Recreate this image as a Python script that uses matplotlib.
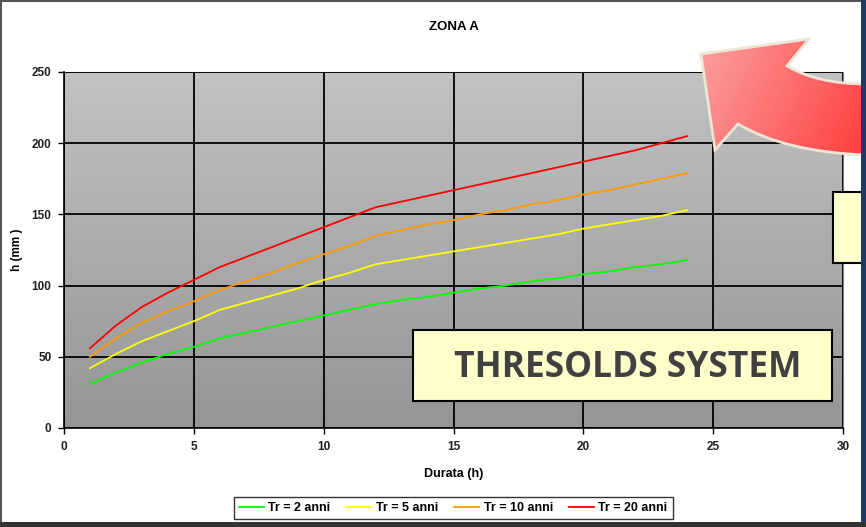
import numpy as np
import matplotlib
matplotlib.use("Agg")
import matplotlib.pyplot as plt
from matplotlib.path import Path
from matplotlib.patches import PathPatch, Rectangle

plt.rcParams['font.family'] = ['Liberation Sans', 'DejaVu Sans']

# ---- data ----
durata = [1, 2, 3, 4, 5, 6, 7, 8, 9, 10, 11, 12, 13, 14, 15, 16, 17, 18, 19, 20, 21, 22, 23, 24]
tr2 = [31, 39, 46, 52, 57, 63, 67, 71, 75, 79, 83, 87, 90, 92, 95, 98, 100, 103, 105, 108, 110, 113, 115, 118]
tr5 = [42, 52, 61, 68, 75, 83, 88, 93, 98, 104, 109, 115, 118, 121, 124, 127, 130, 133, 136, 140, 143, 146, 149, 153]
tr10 = [50, 63, 74, 82, 89, 97, 103, 109, 116, 122, 128, 135, 139, 143, 146, 150, 153, 157, 160, 164, 167, 171, 175, 179]
tr20 = [56, 72, 85, 95, 104, 113, 120, 127, 134, 141, 148, 155, 159, 163, 167, 171, 175, 179, 183, 187, 191, 195, 200, 205]
series_labels = ['Tr = 2 anni', 'Tr = 5 anni', 'Tr = 10 anni', 'Tr = 20 anni']
series_colors = ['#00ff00', '#ffff00', '#ff9900', '#ff0000']
x_ticks = [0, 5, 10, 15, 20, 25, 30]
y_ticks = [0, 50, 100, 150, 200, 250]
title = 'ZONA A'
xlabel = 'Durata (h)'
ylabel = 'h (mm )'
box_text = 'THRESOLDS SYSTEM'

W, H = 866, 527
fig = plt.figure(figsize=(W / 100, H / 100), dpi=100)
fig.patch.set_facecolor('white')

# main axes
L, R, T, B = 64, 843, 72, 428
ax = fig.add_axes([L / W, 1 - B / H, (R - L) / W, (B - T) / H])
ax.set_xlim(0, 30)
ax.set_ylim(0, 250)
grad = np.linspace(0, 1, 256).reshape(-1, 1)
ax.imshow(grad, extent=[0, 30, 0, 250], aspect='auto',
          cmap=matplotlib.colors.LinearSegmentedColormap.from_list('g', ['#c2c2c2', '#959595']),
          origin='upper', zorder=0)
ax.set_xticks(x_ticks)
ax.set_yticks(y_ticks)
ax.grid(True, color='black', linewidth=1.3, zorder=1)
ax.set_axisbelow(False)

for vals, lab, col in zip([tr2, tr5, tr10, tr20], series_labels, series_colors):
    ax.plot(durata, vals, color=col, linewidth=1.3, label=lab, zorder=3)

for s in ['top', 'right']:
    ax.spines[s].set_color('#808080')
    ax.spines[s].set_linewidth(0.8)
for s in ['left', 'bottom']:
    ax.spines[s].set_color('black')
    ax.spines[s].set_linewidth(1.2)
ax.tick_params(axis='both', direction='out', length=4, width=1, labelsize=8.5, colors='black', pad=5)
for lbl in ax.get_xticklabels() + ax.get_yticklabels():
    lbl.set_fontweight('bold')
    lbl.set_color('#202020')
ax.set_xlabel(xlabel, fontsize=9, fontweight='bold', labelpad=11)
ax.set_ylabel(ylabel, fontsize=8.5, fontweight='bold', labelpad=6)
ax.set_title(title, fontsize=9.5, fontweight='bold', pad=30)

leg = fig.legend(loc='center', bbox_to_anchor=(453 / W, 1 - 508 / H), ncol=4,
                 prop={'size': 9, 'weight': 'bold'},
                 frameon=True, fancybox=False, edgecolor='black', handlelength=2.0,
                 handletextpad=0.35, columnspacing=1.3, borderpad=0.4)
leg.get_frame().set_linewidth(1.0)

# overlay axes in pixel coordinates
ov = fig.add_axes([0, 0, 1, 1], zorder=10)
ov.set_xlim(0, W)
ov.set_ylim(H, 0)
ov.axis('off')
ov.patch.set_alpha(0)

# THRESOLDS SYSTEM box
ov.add_patch(Rectangle((413, 330), 419, 71, facecolor='#ffffcc', edgecolor='black', linewidth=1.5))
ov.text(628, 368, box_text, fontsize=25.5, fontweight='bold', family=['Open Sans', 'DejaVu Sans'],
        color='#404040', ha='center', va='center')

# second box (partly visible)
ov.add_patch(Rectangle((833, 192), 40, 71, facecolor='#ffffcc', edgecolor='black', linewidth=1.5))

# curved arrow
verts = [(701, 54), (809, 39), (787, 66),
         (818, 84), (866, 84),
         (866, 155),
         (785, 152), (738, 124),
         (715, 150), (701, 54)]
codes = [Path.MOVETO, Path.LINETO, Path.LINETO,
         Path.CURVE3, Path.CURVE3,
         Path.LINETO,
         Path.CURVE3, Path.CURVE3,
         Path.LINETO, Path.CLOSEPOLY]
path = Path(verts, codes)
patch = PathPatch(path, facecolor='none', edgecolor='#ede6d6', linewidth=2.0, zorder=12)
ov.add_patch(patch)
gx = np.linspace(0, 1, 200)
gy = np.linspace(0, 1, 120)
GX, GY = np.meshgrid(gx, gy)
gval = 0.75 * GX + 0.25 * GY
acmap = matplotlib.colors.LinearSegmentedColormap.from_list('a', ['#fba3a3', '#ff3a3a'])
im = ov.imshow(gval, extent=[695, 870, 160, 35], cmap=acmap, aspect='auto', zorder=11, origin='upper')
im.set_clip_path(patch)

# frame borders
ov.add_patch(Rectangle((0.5, 0.5), W - 1, H - 1, facecolor='none', edgecolor='#555555', linewidth=1.5, zorder=13))
ov.add_patch(Rectangle((861, 0), 5, H, facecolor='#1f3864', edgecolor='none', zorder=14))
ov.add_patch(Rectangle((0, 522), W, 5, facecolor='#333333', edgecolor='none', zorder=14))

fig.savefig('out.png', dpi=100)
